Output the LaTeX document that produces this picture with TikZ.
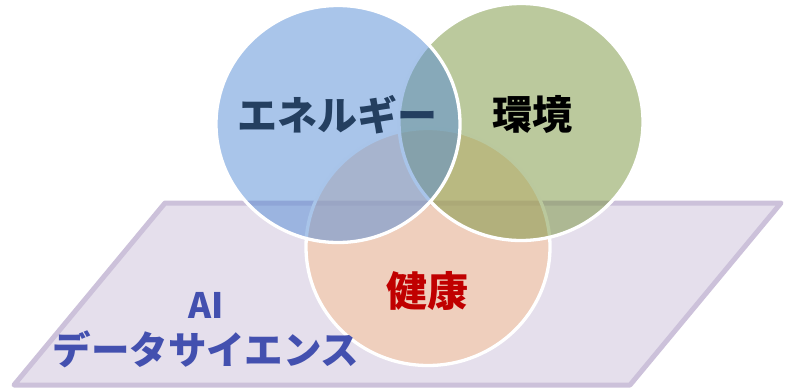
\documentclass[tikz,border=0pt]{standalone}
\usepackage{fontspec}
\newfontfamily\jp{Noto Sans CJK JP}
\usetikzlibrary{shapes.geometric}
\definecolor{bluec}{HTML}{538BD5}
\definecolor{greenc}{HTML}{77933C}
\definecolor{peachc}{HTML}{FAC090}
\definecolor{lav}{HTML}{E5DFEC}
\definecolor{lavb}{HTML}{CCC1DA}
\definecolor{txblue}{HTML}{243F60}
\definecolor{txred}{HTML}{C00000}
\definecolor{txai}{HTML}{4350AF}
\tikzset{
  venn/.style={ellipse, draw=white, line width=3.3pt, fill opacity=0.5, draw opacity=1, inner sep=0pt, minimum width=244pt, minimum height=237pt},
  lbl/.style={inner sep=0pt, font=\jp\bfseries\fontsize{40}{44}\selectfont}
}
\begin{document}
\begin{tikzpicture}[x=1pt,y=-1pt]
\useasboundingbox (0,0) rectangle (789,391);
\coordinate (p1) at (165,203);
\coordinate (p2) at (781,203);
\coordinate (p3) at (630,385);
\coordinate (p4) at (14,385);
\draw[lavb, fill=lav, line width=5pt, line join=round] (p1) -- (p2) -- (p3) -- (p4) -- cycle;
\node[venn, fill=peachc] (health) at (428,247) {};
\node[venn, fill=greenc] (env) at (521,122) {};
\node[venn, fill=bluec] (energy) at (338,124) {};
\node[lbl, text=txblue] (tenergy) at (337,115) {エネルギー};
\node[lbl, text=black] (tenv) at (532,114.5) {環境};
\node[lbl, text=txred, font=\jp\bfseries\fontsize{41}{44}\selectfont] (thealth) at (427,291) {健康};
\node[lbl, text=txai, font=\jp\bfseries\fontsize{35}{38}\selectfont] (tai) at (206,305) {AI};
\node[lbl, text=txai, font=\jp\bfseries\fontsize{38.5}{42}\selectfont] (tds) at (206,349) {データサイエンス};
\end{tikzpicture}
\end{document}
